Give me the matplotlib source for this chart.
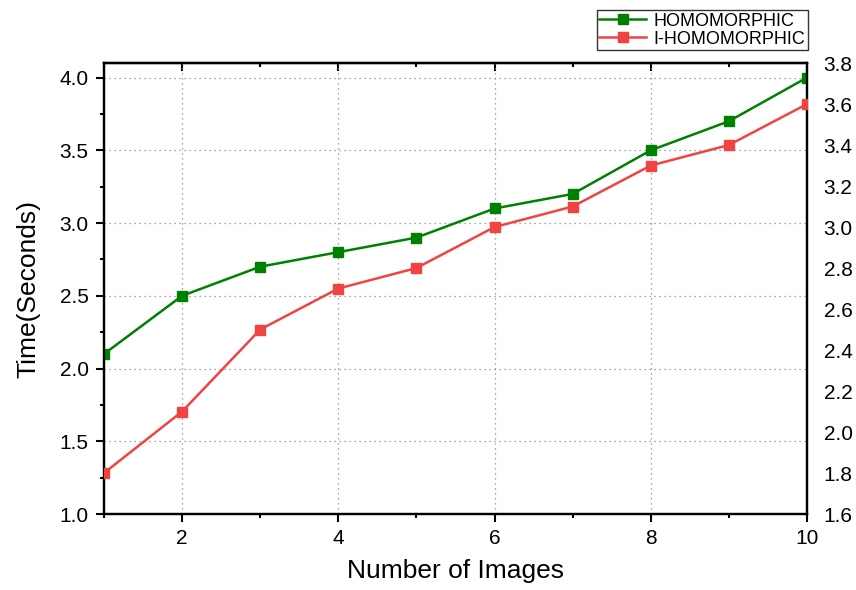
import matplotlib.pyplot as plt
from matplotlib.ticker import MultipleLocator

plt.rcParams['font.family'] = ['Liberation Sans', 'DejaVu Sans']

images = [1, 2, 3, 4, 5, 6, 7, 8, 9, 10]
homomorphic = [2.1, 2.5, 2.7, 2.8, 2.9, 3.1, 3.2, 3.5, 3.7, 4.0]
i_homomorphic = [1.8, 2.1, 2.5, 2.7, 2.8, 3.0, 3.1, 3.3, 3.4, 3.6]

fig = plt.figure(figsize=(8.56, 5.90), dpi=100)
ax = fig.add_axes([0.1215, 0.1288, 0.8213, 0.7644])
ax2 = ax.twinx()

l1, = ax.plot(images, homomorphic, color='#008000', marker='s', markersize=7.5,
              lw=1.8, label='HOMOMORPHIC', zorder=3)
l2, = ax2.plot(images, i_homomorphic, color='#f24343', marker='s', markersize=7.5,
               lw=1.8, label='I-HOMOMORPHIC', zorder=3)

ax.set_xlim(1, 10)
ax.set_ylim(1.0, 4.1)
ax2.set_ylim(1.6, 3.8)
ax.xaxis.set_major_locator(MultipleLocator(2))
ax.xaxis.set_minor_locator(MultipleLocator(1))
ax.yaxis.set_major_locator(MultipleLocator(0.5))
ax.yaxis.set_minor_locator(MultipleLocator(0.25))
ax2.yaxis.set_major_locator(MultipleLocator(0.2))

ax.grid(True, which='major', linestyle=(0, (1, 3)), color='#888888', lw=0.9)
ax.tick_params(axis='both', which='major', direction='out', length=6, width=1.5,
               labelsize=15, pad=5)
ax.tick_params(axis='both', which='minor', direction='out', length=3, width=1.5)
ax2.tick_params(axis='y', which='both', length=0, labelsize=15, pad=12)

# inward ticks along the top edge
top = ax.secondary_xaxis('top')
top.xaxis.set_major_locator(MultipleLocator(2))
top.xaxis.set_minor_locator(MultipleLocator(1))
top.tick_params(which='major', direction='in', length=6, width=1.5, labeltop=False)
top.tick_params(which='minor', direction='in', length=3, width=1.5)

for a in (ax, ax2, top):
    for s in a.spines.values():
        s.set_linewidth(1.6)

ax.set_xlabel('Number of Images', fontsize=19, labelpad=8)
ax.set_ylabel('Time(Seconds)', fontsize=19, labelpad=14)

leg = fig.legend(handles=[l1, l2], loc='upper right',
                 bbox_to_anchor=(0.944, 0.983), fontsize=13, frameon=True,
                 fancybox=False, edgecolor='black', handlelength=2.6,
                 borderpad=0.15, labelspacing=0.05, handletextpad=0.4,
                 borderaxespad=0)
leg.get_frame().set_linewidth(1.0)

fig.savefig('out.png', dpi=100)
